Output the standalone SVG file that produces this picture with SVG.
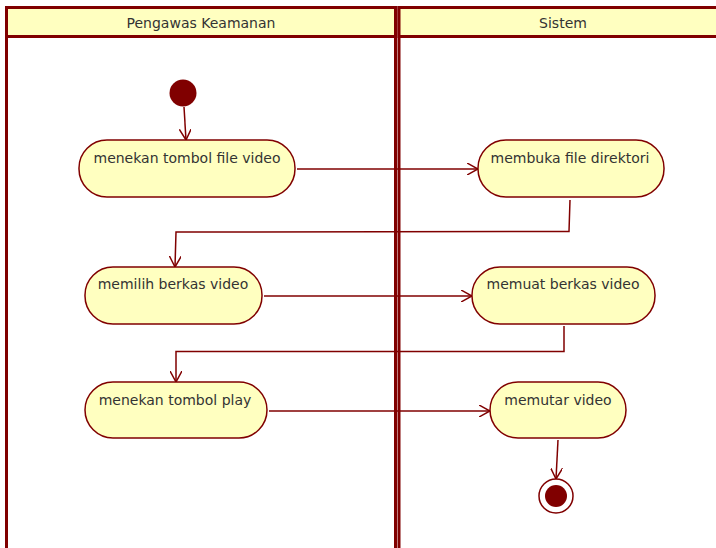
<svg xmlns="http://www.w3.org/2000/svg" width="716" height="548" viewBox="0 0 716 548">
<defs>
<style>
.lane{fill:#ffffff;stroke:#800000;stroke-width:3}
.head{fill:#ffffc0;stroke:#800000;stroke-width:3}
.ht{font-family:"DejaVu Sans","Liberation Sans",sans-serif;font-size:14px;fill:#333333;text-anchor:middle}
.act{fill:#ffffc0;stroke:#800000;stroke-width:1.5}
.at{font-family:"DejaVu Sans","Liberation Sans",sans-serif;font-size:14px;fill:#333333;text-anchor:middle}
.c{fill:none;stroke:#800000;stroke-width:1.5}
</style>
<marker id="arr" viewBox="0 0 12 12" refX="11" refY="6" markerWidth="12" markerHeight="12" markerUnits="userSpaceOnUse" orient="auto">
<path d="M0,0 L11,6 L0,12" fill="none" stroke="#800000" stroke-width="1.5"/>
</marker>
</defs>
<rect width="716" height="548" fill="#ffffff"/>
<g id="lane-pengawas">
<rect class="lane" x="6.5" y="7.5" width="389" height="560"/>
<rect class="head" x="6.5" y="7.5" width="389" height="29"/>
<text class="ht" x="201" y="28">Pengawas Keamanan</text>
</g>
<g id="lane-sistem">
<rect class="lane" x="399" y="7.5" width="340" height="560"/>
<rect class="head" x="399" y="7.5" width="340" height="29"/>
<text class="ht" x="563" y="28">Sistem</text>
</g>
<g id="connectors">
<path class="c" d="M184,107 L186,140" marker-end="url(#arr)"/>
<path class="c" d="M297,169 L478,169" marker-end="url(#arr)"/>
<path class="c" d="M570,200 L569,231.5 L176,232 L175,267" marker-end="url(#arr)"/>
<path class="c" d="M264,296 L472,296" marker-end="url(#arr)"/>
<path class="c" d="M564,326 L564,351.5 L176,351.5 L176,382" marker-end="url(#arr)"/>
<path class="c" d="M269,411 L490,411" marker-end="url(#arr)"/>
<path class="c" d="M558,440 L556,479" marker-end="url(#arr)"/>
</g>
<g id="start">
<circle cx="183" cy="93" r="13.5" fill="#800000"/>
</g>
<g id="a1">
<rect class="act" x="79" y="140" width="216" height="57" rx="28" ry="28"/>
<text class="at" x="187" y="163">menekan tombol file video</text>
</g>
<g id="b1">
<rect class="act" x="478" y="140" width="186" height="57" rx="28" ry="28"/>
<text class="at" x="570" y="163">membuka file direktori</text>
</g>
<g id="a2">
<rect class="act" x="85" y="267" width="177" height="57" rx="28" ry="28"/>
<text class="at" x="173" y="289">memilih berkas video</text>
</g>
<g id="b2">
<rect class="act" x="472" y="267" width="183" height="57" rx="28" ry="28"/>
<text class="at" x="563" y="289">memuat berkas video</text>
</g>
<g id="a3">
<rect class="act" x="85" y="382" width="182" height="56" rx="28" ry="28"/>
<text class="at" x="175" y="405">menekan tombol play</text>
</g>
<g id="b3">
<rect class="act" x="490" y="382" width="136" height="56" rx="28" ry="28"/>
<text class="at" x="558" y="405">memutar video</text>
</g>
<g id="end">
<circle cx="556" cy="496" r="17" fill="#ffffff" stroke="#800000" stroke-width="1.5"/>
<circle cx="556" cy="496" r="11" fill="#800000"/>
</g>
</svg>
